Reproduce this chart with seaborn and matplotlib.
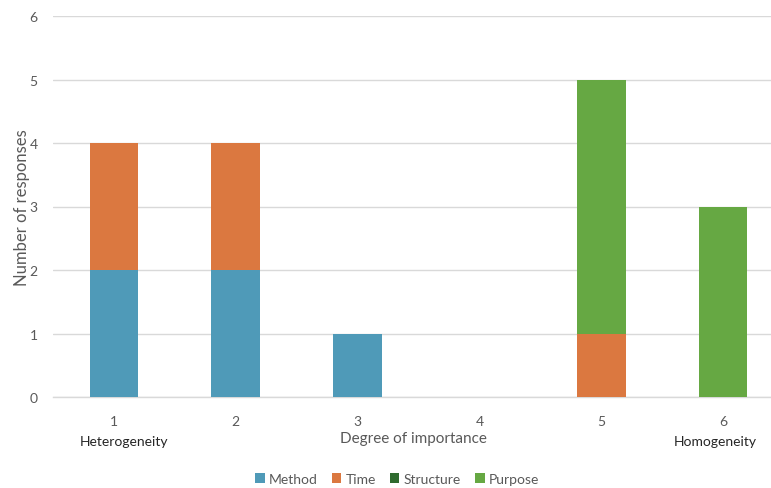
import matplotlib
matplotlib.use("Agg")
import matplotlib.pyplot as plt
from matplotlib.patches import Patch
import seaborn as sns
import pandas as pd

# Survey results: number of responses per degree of importance, by aspect
degrees = ["1", "2", "3", "4", "5", "6"]
method = [2, 2, 1, 0, 0, 0]
time = [2, 2, 0, 0, 1, 0]
structure = [0, 0, 0, 0, 0, 0]
purpose = [0, 0, 0, 0, 4, 3]

series_names = ["Method", "Time", "Structure", "Purpose"]
series_values = [method, time, structure, purpose]
colors = ["#4F9AB8", "#DB7840", "#2F6B2F", "#66A843"]

sns.set_theme(style="white")
plt.rcParams["font.family"] = ["Lato", "DejaVu Sans"]
text_color = "#595959"
grid_color = "#D9D9D9"

fig = plt.figure(figsize=(7.71, 4.89), dpi=100)
ax = fig.add_axes([53 / 771, 1 - 398 / 489, 731 / 771, 381 / 489])

bottom = [0] * len(degrees)
for name, vals, col in zip(series_names, series_values, colors):
    df = pd.DataFrame({"degree": degrees, "count": vals})
    sns.barplot(data=df, x="degree", y="count", order=degrees, color=col,
                bottom=bottom, width=0.4, ax=ax, saturation=1,
                edgecolor="none", linewidth=0, zorder=3)
    bottom = [b + v for b, v in zip(bottom, vals)]

ax.set_xlim(-0.5, 5.5)
ax.set_ylim(0, 6)
ax.set_yticks(range(0, 7))
ax.yaxis.grid(True, color=grid_color, linewidth=1.0, zorder=0)
ax.set_axisbelow(True)
for side in ["top", "right", "left"]:
    ax.spines[side].set_visible(False)
ax.spines["bottom"].set_color(grid_color)
ax.spines["bottom"].set_linewidth(1.0)
ax.tick_params(axis="both", length=0, labelsize=10, colors=text_color)
ax.tick_params(axis="x", pad=13)
ax.tick_params(axis="y", pad=11)

ax.set_xlabel("")
ax.set_ylabel("Number of responses", fontsize=12, color=text_color, labelpad=0)

fig.text(413 / 771, 1 - 439 / 489, "Degree of importance", ha="center", va="center",
         fontsize=11, color=text_color)
fig.text(124 / 771, 1 - 442 / 489, "Heterogeneity", ha="center", va="center",
         fontsize=10, color="#262626")
fig.text(715 / 771, 1 - 442 / 489, "Homogeneity", ha="center", va="center",
         fontsize=10, color="#262626")

handles = [Patch(facecolor=c, edgecolor="none", label=n) for n, c in zip(series_names, colors)]
fig.legend(handles=handles, loc="center", bbox_to_anchor=(397 / 771, 1 - 480 / 489),
           ncol=4, frameon=False, fontsize=10, handlelength=0.7, handleheight=0.7,
           handletextpad=0.3, columnspacing=1.0, labelcolor=text_color)

fig.savefig("out.png", dpi=100)
